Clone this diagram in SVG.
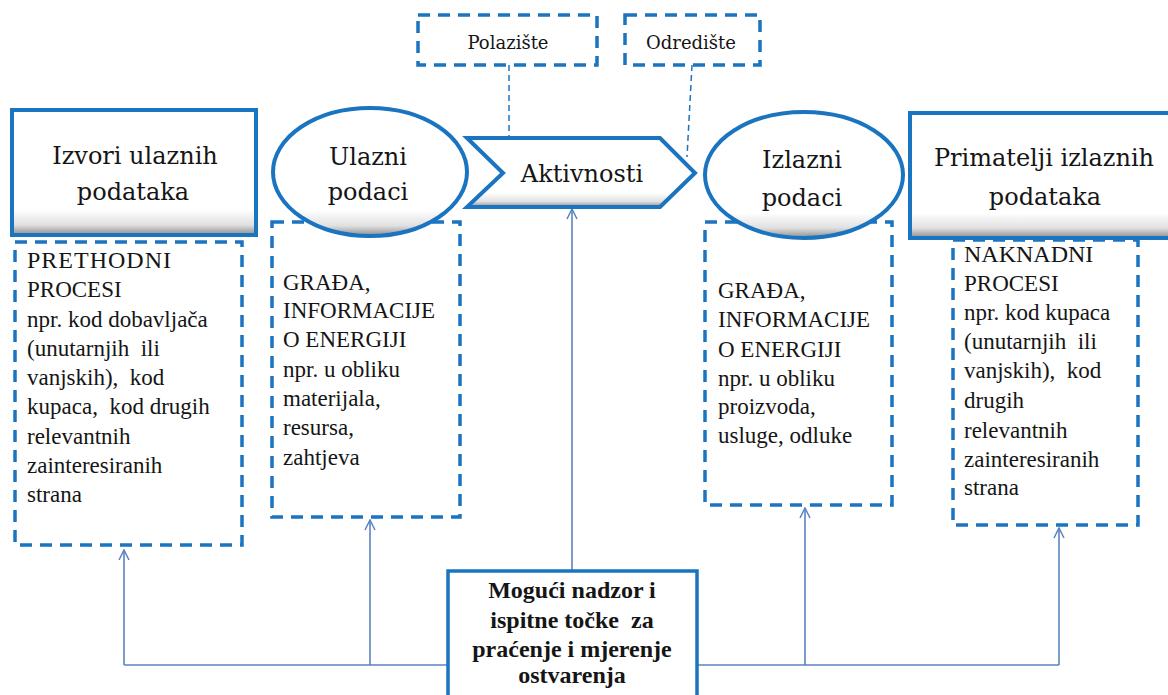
<svg xmlns="http://www.w3.org/2000/svg" width="1168" height="695" viewBox="0 0 1168 695">
<style>
.shape{stroke:#1b74c0;stroke-width:4;fill:url(#shade)}
.dash{fill:none;stroke:#1b74c0;stroke-width:3.5;stroke-dasharray:12 8}
.thin{fill:none;stroke:#1b74c0;stroke-width:1.5;stroke-dasharray:6 4}
.conn{fill:none;stroke:#5b82c2;stroke-width:1.6}
.head{font-family:"DejaVu Serif","Liberation Serif",serif;font-size:24px;fill:#151515;text-anchor:middle}
.small{font-family:"DejaVu Serif","Liberation Serif",serif;font-size:18px;fill:#151515;text-anchor:middle}
.body{font-family:"Liberation Serif","Times New Roman",serif;font-size:23px;fill:#151515}
.caps{font-size:24px}
.bold{font-family:"Liberation Serif","Times New Roman",serif;font-size:24px;font-weight:bold;fill:#151515;text-anchor:middle}
</style>
<defs>
<linearGradient id="shade" x1="0" y1="0" x2="0" y2="1">
<stop offset="0" stop-color="#ffffff"/>
<stop offset="0.8" stop-color="#ffffff"/>
<stop offset="0.92" stop-color="#e0e0e0"/>
<stop offset="1" stop-color="#8c8c8c"/>
</linearGradient>
<marker id="arr" viewBox="0 0 12 12" refX="11" refY="6" markerWidth="12" markerHeight="12" markerUnits="userSpaceOnUse" orient="auto">
<path d="M1,1 L11,6 L1,11" fill="none" stroke="#5b82c2" stroke-width="1.5"/>
</marker>
</defs>
<rect width="1168" height="695" fill="#ffffff"/>

<g id="connectors">
<path class="conn" d="M124,665 H1059"/>
<path class="conn" d="M124,665 V550" marker-end="url(#arr)"/>
<path class="conn" d="M370,665 V520" marker-end="url(#arr)"/>
<path class="conn" d="M805,665 V508" marker-end="url(#arr)"/>
<path class="conn" d="M1059,665 V528" marker-end="url(#arr)"/>
<path class="conn" d="M572,570 V209" marker-end="url(#arr)"/>
<path class="thin" d="M509,65 V164"/>
<path class="thin" d="M692,65 L687,157"/>
</g>

<g id="prethodni">
<rect class="dash" x="15" y="242" width="227" height="303"/>
<text class="body" xml:space="preserve"><tspan class="caps" x="27" y="268" letter-spacing="1">PRETHODNI</tspan><tspan x="27" y="297">PROCESI</tspan><tspan x="27" y="327">npr. kod dobavljača</tspan><tspan x="27" y="356">(unutarnjih  ili</tspan><tspan x="27" y="385">vanjskih),  kod</tspan><tspan x="27" y="414">kupaca,  kod drugih</tspan><tspan x="27" y="444">relevantnih</tspan><tspan x="27" y="473">zainteresiranih</tspan><tspan x="27" y="502">strana</tspan></text>
</g>

<g id="ulazni-detalji">
<rect class="dash" x="272" y="222" width="188" height="295"/>
<text class="body"><tspan x="283" y="290">GRAĐA,</tspan><tspan x="283" y="318">INFORMACIJE</tspan><tspan x="283" y="347">O ENERGIJI</tspan><tspan x="283" y="377">npr. u obliku</tspan><tspan x="283" y="406">materijala,</tspan><tspan x="283" y="435">resursa,</tspan><tspan x="283" y="465">zahtjeva</tspan></text>
</g>

<g id="izlazni-detalji">
<rect class="dash" x="705" y="222" width="187" height="283"/>
<text class="body"><tspan x="718" y="298">GRAĐA,</tspan><tspan x="718" y="327">INFORMACIJE</tspan><tspan x="718" y="357">O ENERGIJI</tspan><tspan x="718" y="386">npr. u obliku</tspan><tspan x="718" y="414">proizvoda,</tspan><tspan x="718" y="443">usluge, odluke</tspan></text>
</g>

<g id="naknadni">
<rect class="dash" x="953" y="240" width="185" height="285"/>
<text class="body" xml:space="preserve"><tspan class="caps" x="964" y="262">NAKNADNI</tspan><tspan x="964" y="291">PROCESI</tspan><tspan x="964" y="320">npr. kod kupaca</tspan><tspan x="964" y="349">(unutarnjih  ili</tspan><tspan x="964" y="378">vanjskih),  kod</tspan><tspan x="964" y="408">drugih</tspan><tspan x="964" y="438">relevantnih</tspan><tspan x="964" y="467">zainteresiranih</tspan><tspan x="964" y="495">strana</tspan></text>
</g>

<g id="izvori">
<rect class="shape" x="12" y="110" width="244" height="125"/>
<text class="head"><tspan x="135" y="164">Izvori ulaznih</tspan><tspan x="133" y="200">podataka</tspan></text>
</g>

<g id="ulazni">
<ellipse class="shape" cx="370" cy="172" rx="97" ry="64"/>
<text class="head"><tspan x="368" y="165">Ulazni</tspan><tspan x="368" y="200">podaci</tspan></text>
</g>

<g id="aktivnosti">
<polygon class="shape" points="467,138 660,138 695,173 660,207 467,207 503,173"/>
<text class="head" x="582" y="182">Aktivnosti</text>
</g>

<g id="izlazni">
<ellipse class="shape" cx="804" cy="175" rx="99" ry="63"/>
<text class="head"><tspan x="802" y="168">Izlazni</tspan><tspan x="802" y="206">podaci</tspan></text>
</g>

<g id="primatelji">
<rect class="shape" x="910" y="113" width="270" height="125"/>
<text class="head"><tspan x="1044" y="166">Primatelji izlaznih</tspan><tspan x="1045" y="205">podataka</tspan></text>
</g>

<g id="polaziste">
<rect class="dash" x="418" y="15" width="179" height="50"/>
<text class="small" x="508" y="49">Polazište</text>
</g>

<g id="odrediste">
<rect class="dash" x="625" y="15" width="135" height="50"/>
<text class="small" x="691" y="49">Odredište</text>
</g>

<g id="nadzor">
<rect x="448" y="571" width="249" height="130" fill="#ffffff" stroke="#1b74c0" stroke-width="3.5"/>
<text class="bold"><tspan x="572" y="598">Mogući nadzor i</tspan><tspan x="572" y="628" xml:space="preserve">ispitne točke  za</tspan><tspan x="572" y="657">praćenje i mjerenje</tspan><tspan x="572" y="683">ostvarenja</tspan></text>
</g>
</svg>
